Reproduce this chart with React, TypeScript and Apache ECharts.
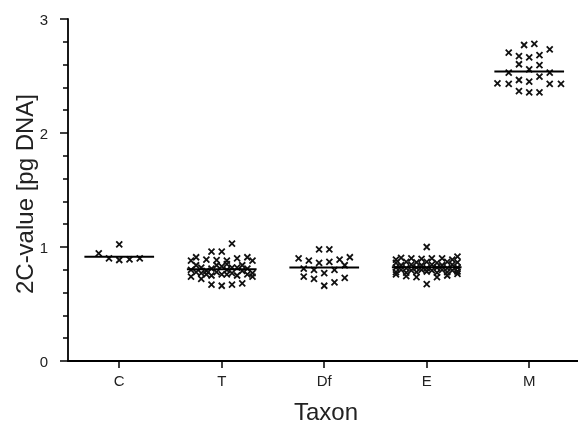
import React, { useEffect, useRef } from 'react';
import * as echarts from 'echarts';

const categories = ['C', 'T', 'Df', 'E', 'M'];
const categoryPositions = [1, 2, 3, 4, 5];
const yTicks = [0, 1, 2, 3];
const means = [0.915, 0.805, 0.82, 0.822, 2.54];

// [horizontal jitter offset within category, 2C-value]
const cPoints: [number, number][] = [
  [-0.2, 0.945], [0, 1.024], [-0.1, 0.9], [0, 0.886], [0.1, 0.892], [0.2, 0.9],
];
const tPoints: [number, number][] = [
  [0.1, 1.03],
  [-0.1, 0.96], [0, 0.96],
  [-0.3, 0.88], [-0.25, 0.91], [-0.15, 0.89], [-0.05, 0.885], [0.05, 0.88], [0.15, 0.9], [0.25, 0.91], [0.3, 0.88],
  [-0.3, 0.8], [-0.25, 0.78], [-0.2, 0.82], [-0.15, 0.79], [-0.1, 0.81], [-0.05, 0.78], [0, 0.83], [0.05, 0.8],
  [0.1, 0.77], [0.15, 0.82], [0.2, 0.79], [0.25, 0.81], [0.3, 0.77],
  [-0.25, 0.84], [-0.15, 0.76], [-0.05, 0.84], [0, 0.76], [0.05, 0.85], [0.1, 0.82], [0.2, 0.84], [0.25, 0.76],
  [-0.1, 0.75], [0.15, 0.75], [-0.2, 0.77], [0.05, 0.76],
  [-0.3, 0.74], [-0.2, 0.72], [0.3, 0.74],
  [-0.1, 0.67], [0, 0.66], [0.1, 0.67], [0.2, 0.68],
];
const dfPoints: [number, number][] = [
  [-0.05, 0.98], [0.05, 0.98],
  [-0.25, 0.9], [-0.15, 0.88], [-0.05, 0.86], [0.05, 0.87], [0.15, 0.89], [0.25, 0.91], [0.2, 0.84],
  [-0.2, 0.81], [-0.1, 0.8], [0.1, 0.8],
  [-0.2, 0.74], [-0.1, 0.72], [0, 0.77], [0.1, 0.69], [0.2, 0.73], [0, 0.66],
];
const ePoints: [number, number][] = [
  [0, 1.0],
  [-0.3, 0.89], [-0.25, 0.905], [-0.15, 0.9], [-0.05, 0.895], [0.05, 0.9], [0.15, 0.9], [0.25, 0.89], [0.3, 0.915],
  [-0.3, 0.86], [-0.2, 0.87], [-0.1, 0.865], [0, 0.87], [0.1, 0.86], [0.2, 0.87], [0.3, 0.865],
  [-0.25, 0.84], [-0.15, 0.845], [-0.05, 0.84], [0.05, 0.845], [0.15, 0.84], [0.25, 0.845],
  [-0.3, 0.82], [-0.2, 0.815], [-0.1, 0.82], [0, 0.815], [0.1, 0.82], [0.2, 0.815], [0.3, 0.82],
  [-0.25, 0.8], [-0.15, 0.795], [-0.05, 0.8], [0.05, 0.795], [0.15, 0.8], [0.25, 0.795],
  [-0.3, 0.78], [-0.2, 0.775], [-0.1, 0.78], [0, 0.785], [0.1, 0.775], [0.2, 0.78], [0.3, 0.785],
  [-0.3, 0.76], [-0.2, 0.745], [-0.1, 0.735], [0.1, 0.735], [0.2, 0.75], [0.3, 0.765],
  [0, 0.675],
];
const mPoints: [number, number][] = [
  [-0.05, 2.772], [0.05, 2.781],
  [-0.2, 2.705], [0.2, 2.734],
  [-0.1, 2.675], [0, 2.664], [0.1, 2.684],
  [-0.1, 2.603], [0.1, 2.596],
  [0, 2.559],
  [-0.2, 2.529], [0.2, 2.529],
  [0.1, 2.494],
  [-0.1, 2.465], [0, 2.45],
  [-0.31, 2.436], [-0.2, 2.43], [0.2, 2.43], [0.31, 2.43],
  [-0.1, 2.368], [0, 2.357], [0.1, 2.357],
];
const groups = [cPoints, tPoints, dfPoints, ePoints, mPoints];

const FONT = 'Liberation Sans, Arial, sans-serif';

export default function App() {
  const ref = useRef<HTMLDivElement>(null);
  useEffect(() => {
    const chart = echarts.init(ref.current!, null, { renderer: 'svg' });
    const scatterData = groups.flatMap((pts, i) =>
      pts.map(([dx, v]) => [categoryPositions[i] + dx, v])
    );
    const meanSeries = means.map((m, i) => ({
      type: 'line',
      data: [[categoryPositions[i] - 0.34, m], [categoryPositions[i] + 0.34, m]],
      symbol: 'none',
      silent: true,
      lineStyle: { color: '#000', width: 2 },
      z: 3,
    }));
    chart.setOption({
      animation: false,
      grid: { left: 68, right: 0, top: 19, bottom: 62 },
      xAxis: {
        type: 'value',
        min: 0.5,
        max: 5.476,
        axisLine: { show: true, lineStyle: { color: '#000', width: 1.8 } },
        axisTick: {
          show: true,
          customValues: categoryPositions,
          length: 7,
          lineStyle: { color: '#000', width: 1.5 },
        },
        axisLabel: {
          customValues: categoryPositions,
          formatter: (v: number) => categories[Math.round(v) - 1] ?? '',
          fontSize: 15,
          fontFamily: FONT,
          color: '#222',
          margin: 12,
        },
        splitLine: { show: false },
      },
      yAxis: {
        type: 'value',
        min: yTicks[0],
        max: yTicks[yTicks.length - 1],
        interval: 1,
        axisLine: { show: true, lineStyle: { color: '#000', width: 1.8 } },
        axisTick: { show: true, length: 8, lineStyle: { color: '#000', width: 1.5 } },
        minorTick: { show: true, splitNumber: 5, length: 5, lineStyle: { color: '#000', width: 1.5 } },
        axisLabel: { fontSize: 15, fontFamily: FONT, color: '#222', margin: 20 },
        splitLine: { show: false },
      },
      graphic: [
        {
          type: 'text',
          x: 326,
          y: 411,
          style: {
            text: 'Taxon',
            fontSize: 24,
            fontFamily: FONT,
            fill: '#222',
            align: 'center',
            verticalAlign: 'middle',
          },
        },
        {
          type: 'text',
          x: 24,
          y: 194,
          rotation: Math.PI / 2,
          style: {
            text: '2C-value [pg DNA]',
            fontSize: 24,
            fontFamily: FONT,
            fill: '#222',
            align: 'center',
            verticalAlign: 'middle',
          },
        },
      ],
      series: [
        {
          type: 'scatter',
          data: scatterData,
          symbol: 'path://M0,0L10,10M10,0L0,10',
          symbolSize: 6,
          itemStyle: { color: 'transparent', borderColor: '#111', borderWidth: 1.8, opacity: 1 },
          z: 2,
        },
        ...meanSeries,
      ],
    });
    return () => chart.dispose();
  }, []);
  return <div ref={ref} style={{ position: 'fixed', left: 0, top: 0, width: 578, height: 423 }} />;
}
